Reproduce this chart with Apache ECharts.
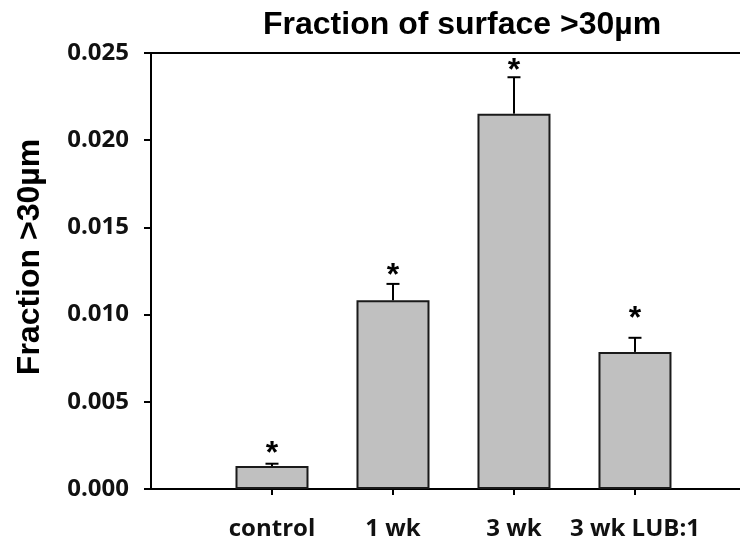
<!DOCTYPE html>
<html>
<head>
<meta charset="utf-8" />
<title>Fraction of surface >30µm</title>
<script src="https://cdn.jsdelivr.net/npm/echarts@6/dist/echarts.min.js"></script>
<style>
  html, body { margin: 0; padding: 0; background: #fff; }
  #main { width: 740px; height: 542px; }
</style>
</head>
<body>
<div id="main"></div>
<script>
// data
var groups = ['control', '1 wk', '3 wk', '3 wk LUB:1'];
var groupPos = [1, 2, 3, 4];
var means = [0.00132, 0.01082, 0.02152, 0.00786];
var errs = [0.00013, 0.00094, 0.00209, 0.00081];
// where the significance stars sit (in y units)
var starAt = [0.00229, 0.01250, 0.02423, 0.01002];
var yTicks = [0, 0.005, 0.010, 0.015, 0.020, 0.025];

var chart = echarts.init(document.getElementById('main'));

var barData = groupPos.map(function (x, i) { return [x, means[i]]; });
var errData = groupPos.map(function (x, i) { return [x, means[i], errs[i], starAt[i]]; });

var labelFont = '"Open Sans", "Noto Sans", sans-serif';
var headFont = '"Liberation Sans", Arial, sans-serif';

chart.setOption({
  animation: false,
  backgroundColor: '#fff',
  title: {
    text: 'Fraction of surface >30µm',
    left: 258,
    top: 4,
    textStyle: { fontFamily: headFont, fontWeight: 'bold', fontSize: 32, color: '#000' }
  },
  graphic: [{
    type: 'text',
    x: 30,
    y: 257,
    rotation: Math.PI / 2,
    style: {
      text: 'Fraction >30µm',
      font: 'bold 32px ' + headFont,
      fill: '#000',
      align: 'center',
      verticalAlign: 'middle'
    }
  }],
  grid: { left: 151, right: 0, top: 53, bottom: 53 },
  xAxis: [{
    type: 'value',
    min: 0,
    max: 4.868,
    position: 'bottom',
    splitLine: { show: false },
    axisLine: { show: true, onZero: false, lineStyle: { color: '#000', width: 2 } },
    axisTick: { show: true, customValues: groupPos, length: 6, lineStyle: { color: '#000', width: 2 } },
    axisLabel: {
      customValues: groupPos,
      margin: 28,
      fontFamily: labelFont,
      fontWeight: 'bold',
      fontSize: 24,
      color: '#111',
      formatter: function (v) { return groups[Math.round(v) - 1] || ''; }
    }
  }, {
    type: 'value',
    min: 0,
    max: 4.868,
    position: 'top',
    splitLine: { show: false },
    axisLine: { show: true, onZero: false, lineStyle: { color: '#000', width: 2 } },
    axisTick: { show: false },
    axisLabel: { show: false }
  }],
  yAxis: {
    type: 'value',
    min: 0,
    max: 0.025,
    interval: 0.005,
    splitLine: { show: false },
    axisLine: { show: true, lineStyle: { color: '#000', width: 2 } },
    axisTick: { show: true, length: 7, lineStyle: { color: '#000', width: 2 } },
    axisLabel: {
      margin: 22,
      fontFamily: labelFont,
      fontWeight: 'bold',
      fontSize: 24,
      color: '#111',
      formatter: function (v) { return v.toFixed(3); }
    }
  },
  series: [{
    type: 'bar',
    data: barData,
    barWidth: 73,
    itemStyle: { color: '#c0c0c0', borderColor: '#1a1a1a', borderWidth: 2 },
    z: 2
  }, {
    type: 'custom',
    data: errData,
    z: 3,
    renderItem: function (params, api) {
      var x = api.value(0);
      var m = api.value(1);
      var e = api.value(2);
      var s = api.value(3);
      var base = api.coord([x, m]);
      var top = api.coord([x, m + e]);
      var star = api.coord([x, s]);
      var cap = 6.5;
      var lw = { stroke: '#000', lineWidth: 2 };
      return {
        type: 'group',
        children: [{
          type: 'line',
          shape: { x1: top[0], y1: base[1], x2: top[0], y2: top[1] },
          style: lw
        }, {
          type: 'line',
          shape: { x1: top[0] - cap, y1: top[1], x2: top[0] + cap, y2: top[1] },
          style: lw
        }, {
          // the asterisk glyph sits high in its box, so push it down a bit
          type: 'text',
          x: star[0],
          y: star[1] + 5,
          style: {
            text: '*',
            font: 'bold 32px ' + headFont,
            fill: '#000',
            align: 'center',
            verticalAlign: 'middle'
          }
        }]
      };
    }
  }]
});

window.onresize = function () {
  chart.resize();
};
</script>
</body>
</html>
